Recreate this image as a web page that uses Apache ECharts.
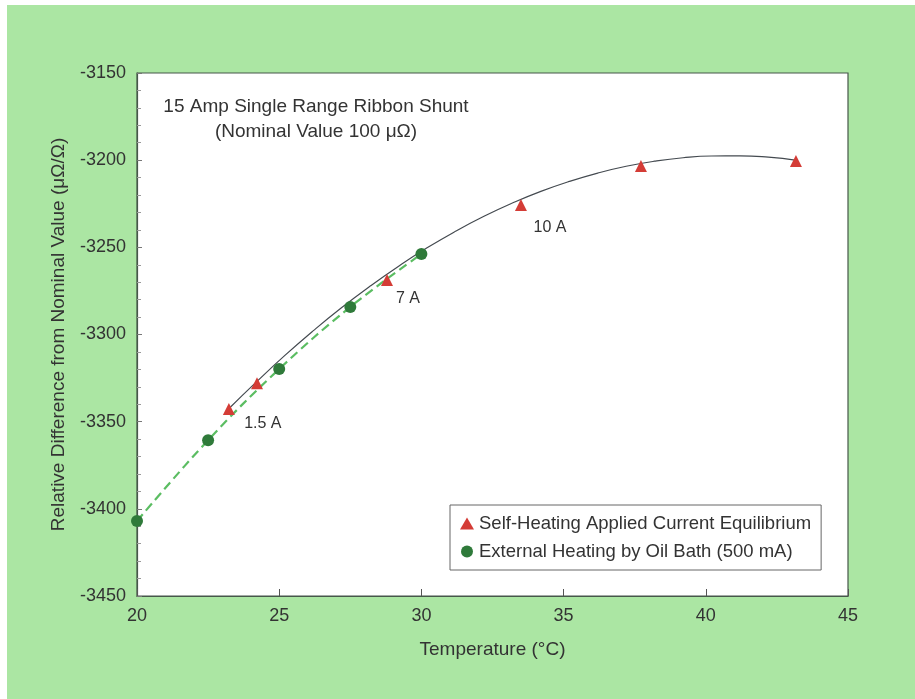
<!DOCTYPE html>
<html>
<head>
<meta charset="utf-8">
<script src="https://cdn.jsdelivr.net/npm/echarts@6/dist/echarts.min.js"></script>
<style>
html,body{margin:0;padding:0;background:#ffffff;}
#chart{width:915px;height:699px;}
</style>
</head>
<body>
<div id="chart"></div>
<script>
// Self-heating (applied current equilibrium) points
const selfX = [23.23, 24.22, 28.79, 33.5, 37.72, 43.17];
const selfY = [-3342.8, -3327.9, -3268.8, -3225.7, -3203.4, -3200.5];
const selfLabels = ['1.5 A', '', '7 A', '10 A', '', ''];
// External heating by oil bath points
const oilX = [20, 22.5, 25, 27.5, 30];
const oilY = [-3407, -3360.6, -3319.8, -3284.2, -3253.8];
// Fitted curve through self-heating points
const fitX = [23.2, 24.2, 25.2, 26.2, 27.2, 28.2, 29.2, 30.2, 31.2, 32.2, 33.2,
              34.2, 35.2, 36.2, 37.2, 38.2, 39.2, 40.2, 41.2, 42.2, 43.2];
const fitY = [-3343.0, -3327.2, -3312.0, -3297.8, -3284.5, -3272.2, -3260.8, -3250.3, -3240.8, -3232.2, -3224.6,
              -3217.9, -3212.2, -3207.4, -3203.5, -3200.6, -3198.6, -3197.6, -3197.5, -3198.3, -3200.1];
// Axes
const xTicks = [20, 25, 30, 35, 40, 45];
const yTicks = [-3450, -3400, -3350, -3300, -3250, -3200, -3150];

const FONT = '"Liberation Sans", Arial, sans-serif';
const TXT = '#333333';

const labelOffsets = {'1.5 A': [34, 14], '7 A': [21, 18], '10 A': [29, 23]};

const chart = echarts.init(document.getElementById('chart'), null, {renderer: 'canvas'});

const option = {
  animation: false,
  backgroundColor: '#ffffff',
  textStyle: {fontFamily: FONT},
  graphic: [{
    type: 'rect', z: -10, silent: true,
    shape: {x: 7, y: 5, width: 915, height: 699},
    style: {fill: '#abe6a3'}
  }],
  title: {
    text: '15 Amp Single Range Ribbon Shunt\n(Nominal Value 100 \u03bc\u03a9)',
    left: 311, top: 89, textAlign: 'center',
    textStyle: {fontFamily: FONT, fontSize: 19, fontWeight: 'normal', color: TXT, lineHeight: 25, align: 'center'}
  },
  legend: {
    orient: 'vertical',
    left: 450, top: 505,
    padding: [9, 10, 9, 10],
    itemGap: 9,
    itemWidth: 14, itemHeight: 12,
    borderColor: '#666666', borderWidth: 1,
    backgroundColor: '#ffffff',
    textStyle: {fontFamily: FONT, fontSize: 18.5, color: TXT},
    data: [
      {name: 'Self-Heating Applied Current Equilibrium', icon: 'triangle'},
      {name: 'External Heating by Oil Bath (500 mA)', icon: 'circle'}
    ]
  },
  grid: {
    left: 137, right: 67, top: 73, bottom: 103,
    show: true, borderColor: '#46574a', borderWidth: 1.2, backgroundColor: '#ffffff'
  },
  xAxis: {
    type: 'value', min: xTicks[0], max: xTicks[xTicks.length - 1], interval: 5,
    name: 'Temperature (\u00b0C)', nameLocation: 'middle', nameGap: 44,
    nameTextStyle: {fontFamily: FONT, fontSize: 19, color: TXT},
    axisLine: {show: true, lineStyle: {color: '#46574a', width: 1.2}},
    axisTick: {show: true, inside: true, length: 7, lineStyle: {color: '#555'}},
    axisLabel: {fontFamily: FONT, fontSize: 18, color: TXT, margin: 11},
    splitLine: {show: false}
  },
  yAxis: {
    type: 'value', min: yTicks[0], max: yTicks[yTicks.length - 1], interval: 50,
    name: 'Relative Difference from Nominal Value (\u03bc\u03a9/\u03a9)', nameLocation: 'middle', nameGap: 69,
    nameTextStyle: {fontFamily: FONT, fontSize: 19, color: TXT},
    axisLine: {show: true, lineStyle: {color: '#46574a', width: 1.2}},
    axisTick: {show: true, inside: true, length: 5, lineStyle: {color: '#777'}},
    minorTick: {show: true, splitNumber: 5, length: 4, lineStyle: {color: '#999'}},
    axisLabel: {fontFamily: FONT, fontSize: 18, color: TXT, margin: 11, formatter: v => String(v)},
    splitLine: {show: false}
  },
  series: [
    {
      name: 'fit', type: 'line', smooth: true, symbol: 'none',
      data: fitX.map((x, i) => [x, fitY[i]]),
      lineStyle: {color: '#444a50', width: 1.2}, z: 2
    },
    {
      name: 'External Heating by Oil Bath (500 mA)', type: 'line', smooth: 0.4,
      symbol: 'circle', symbolSize: 12,
      data: oilX.map((x, i) => [x, oilY[i]]),
      lineStyle: {color: '#5bbd62', width: 2.2, type: [9, 5]},
      itemStyle: {color: '#2f7a3a', opacity: 1}, z: 3
    },
    {
      name: 'Self-Heating Applied Current Equilibrium', type: 'scatter',
      symbol: 'triangle', symbolSize: 12,
      itemStyle: {color: '#d43c36', opacity: 1}, z: 4,
      data: selfX.map((x, i) => ({
        value: [x, selfY[i]],
        label: selfLabels[i] ? {
          show: true, formatter: selfLabels[i], position: 'inside',
          offset: labelOffsets[selfLabels[i]],
          fontFamily: FONT, fontSize: 16, color: TXT
        } : {show: false}
      }))
    }
  ]
};
chart.setOption(option);
</script>
</body>
</html>
